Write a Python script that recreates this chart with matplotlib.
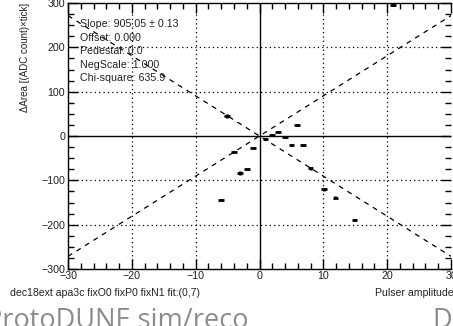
import numpy as np
import matplotlib
matplotlib.use("Agg")
import matplotlib.pyplot as plt
from matplotlib.ticker import MultipleLocator

plt.rcParams["font.family"] = ["Liberation Sans", "DejaVu Sans"]

# Pulser scan points
pulser = [-6.0, -5.1, -4.0, -3.0, -2.0, -1.05, 0.95, 1.9, 2.9, 4.0, 5.0, 5.9, 6.85, 8.0, 10.1, 11.9, 14.9, 20.95]
darea = [-144, 45, -35, -83, -75, -26, -7, 2, 10, -3, -20, 25, -20, -73, -120, -139, -190, 296]
darea_err = [2, 4, 2, 4, 2, 2, 2, 2, 2, 2, 2, 2, 2, 3, 3, 4, 2, 2]

# Fit results
fit_slope = 905.05
fit_slope_err = 0.13
fit_offset = 0.000
fit_pedestal = 0.0
fit_negscale = 1.000
fit_chi2 = 635.9

fig = plt.figure(figsize=(4.53, 3.26), dpi=100)
ax = fig.add_axes([68 / 453, 1 - 269 / 326, 383 / 453, 266 / 326])

ax.set_xlim(-30, 30)
ax.set_ylim(-300, 300)

# fit lines through the origin, mirrored for the negative branch
xs = np.linspace(-30, 30, 200)
ax.plot(xs, fit_slope * xs / 100, color="k", lw=0.9, ls=(0, (4, 4)))
ax.plot(xs, -fit_negscale * fit_slope * xs / 100, color="k", lw=0.9, ls=(0, (4, 4)))

ax.errorbar(pulser, darea, xerr=0.45, yerr=darea_err, fmt="none",
            ecolor="k", elinewidth=2.0, capsize=0)

# dotted grid, solid zero lines
for gx in [-20, -10, 10, 20, 30]:
    ax.axvline(gx, color="k", lw=0.9, ls=(0, (1, 2.5)))
for gy in [-200, -100, 100, 200]:
    ax.axhline(gy, color="k", lw=0.9, ls=(0, (1, 2.5)))
ax.axvline(0, color="k", lw=1.0)
ax.axhline(0, color="k", lw=1.0)

ax.spines["right"].set_visible(False)
for s in ["left", "top", "bottom"]:
    ax.spines[s].set_linewidth(1.0)

ax.xaxis.set_major_locator(MultipleLocator(10))
ax.xaxis.set_minor_locator(MultipleLocator(2))
ax.yaxis.set_major_locator(MultipleLocator(100))
ax.yaxis.set_minor_locator(MultipleLocator(25))
ax.tick_params(which="both", direction="in", top=True, right=True, labelsize=7.7,
               colors="k", labelcolor="#222222")
ax.tick_params(which="major", length=7, width=1.0)
ax.tick_params(which="minor", length=4, width=1.0)
ax.tick_params(axis="x", pad=1.5)
ax.tick_params(axis="y", pad=2)

ax.set_ylabel("ΔArea [(ADC count)×tick]", fontsize=7, loc="top", labelpad=8,
              color="#222222")

stats = [
    f"Slope: {fit_slope:.2f} ± {fit_slope_err:.2f}",
    f"Offset: {fit_offset:.3f}",
    f"Pedestal: {fit_pedestal:.1f}",
    f"NegScale: {fit_negscale:.3f}",
    f"Chi-square: {fit_chi2:.1f}",
]
for i, line in enumerate(stats):
    ax.text(80 / 453, 1 - (24 + 13.6 * i) / 326, line, transform=fig.transFigure,
            fontsize=7.7, color="#222222", va="center", ha="left")

fig.text(10 / 453, 1 - 293 / 326, "dec18ext apa3c fixO0 fixP0 fixN1 fit:(0,7)",
         fontsize=7.6, va="center", ha="left", color="#222222")
fig.text(375 / 453, 1 - 293 / 326, "Pulser amplitude",
         fontsize=7.6, va="center", ha="left", color="#222222")

fig.text(-14 / 453, 1 - 328 / 326, "ProtoDUNE sim/reco", family="Open Sans",
         fontsize=19.5, color="#8c8c8c", va="baseline", ha="left")
fig.text(432 / 453, 1 - 328 / 326, "D", family="Open Sans",
         fontsize=19.5, color="#8c8c8c", va="baseline", ha="left")

fig.savefig("out.png", dpi=100)
